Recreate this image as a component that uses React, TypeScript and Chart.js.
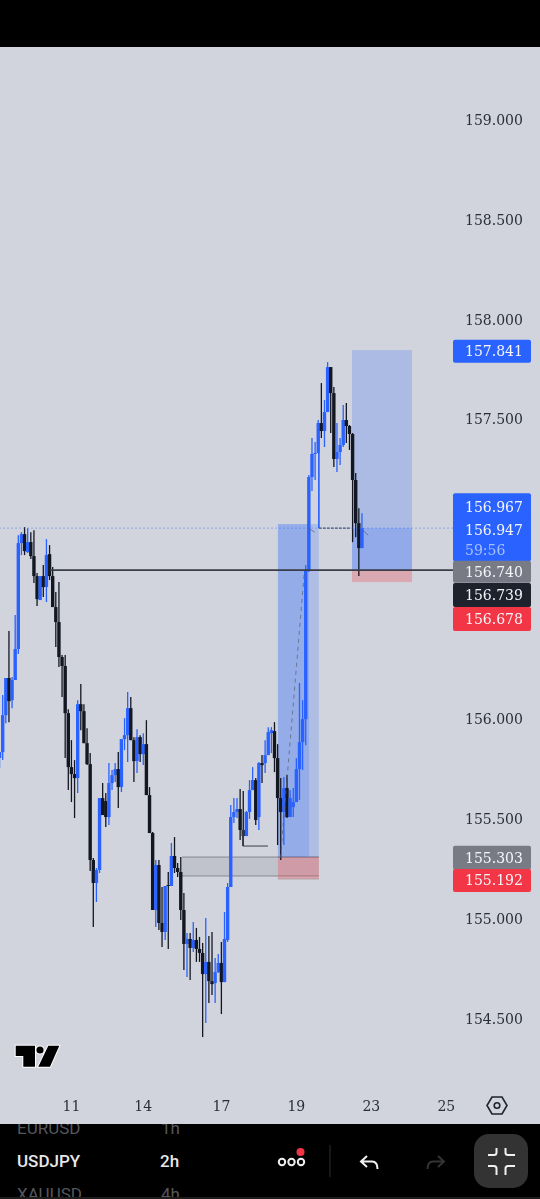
import React, { useEffect, useRef } from "react";
import { Chart, registerables } from "chart.js";

Chart.register(...registerables);

// 2h candles USDJPY
const opens = [155.802,155.832,156.017,156.203,156.092,156.193,156.348,156.878,156.923,156.833,156.883,156.813,156.713,156.593,156.713,156.658,156.823,156.713,156.558,156.483,156.308,156.263,156.027,155.757,155.722,155.702,156.072,156.037,155.877,155.772,155.292,155.177,155.242,155.602,155.587,155.507,155.677,155.717,155.747,155.657,155.897,155.917,156.052,155.892,155.787,155.907,155.822,155.872,155.617,155.427,155.042,155.267,154.977,154.932,155.167,155.162,155.312,155.252,155.232,155.042,154.872,154.897,154.852,154.892,154.847,154.827,154.721,154.782,154.686,154.676,154.731,154.777,154.681,154.892,155.157,155.507,155.532,155.547,155.442,155.412,155.532,155.642,155.692,155.507,155.777,155.777,155.817,155.927,155.937,155.802,155.602,155.532,155.652,155.507,155.557,155.582,155.747,155.882,155.997,156.743,157.209,157.324,157.329,157.479,157.439,157.534,157.759,157.629,157.299,157.334,157.369,157.494,157.464,157.424,157.194,156.978,156.853];
const highs = [155.832,156.118,156.203,156.438,156.208,156.518,156.918,156.933,156.958,156.953,156.933,156.943,156.728,156.713,156.768,156.898,156.868,156.758,156.633,156.683,156.318,156.318,156.047,155.892,155.792,156.092,156.173,156.072,155.952,155.827,155.302,155.252,155.602,155.677,155.627,155.777,155.742,155.777,155.832,155.897,156.002,156.133,156.108,155.907,155.947,155.917,155.927,155.992,155.657,155.432,155.292,155.292,155.157,155.162,155.232,155.377,155.407,155.277,155.307,155.127,154.927,154.927,154.982,154.952,154.907,154.877,155.002,154.912,154.932,154.802,154.822,154.882,155.032,155.177,155.567,155.602,155.602,155.647,155.637,155.537,155.692,155.757,155.702,155.782,155.817,155.892,155.957,155.957,155.982,155.872,155.702,155.707,155.717,155.642,155.652,155.802,156.178,156.092,156.768,157.219,157.404,157.384,157.494,157.679,157.594,157.784,157.759,157.659,157.479,157.404,157.569,157.579,157.469,157.429,157.229,157.053,157.028];
const lows = [155.752,155.792,155.977,155.982,156.052,156.193,156.323,156.818,156.818,156.828,156.798,156.678,156.563,156.593,156.608,156.583,156.693,156.558,156.358,156.258,156.108,155.802,155.642,155.582,155.502,155.627,155.942,155.877,155.767,155.237,154.957,155.082,155.227,155.517,155.457,155.467,155.642,155.682,155.552,155.632,155.842,155.782,155.892,155.682,155.727,155.782,155.767,155.617,155.427,155.042,154.957,154.942,154.857,154.892,154.847,155.162,155.227,155.207,154.992,154.741,154.706,154.691,154.832,154.782,154.782,154.406,154.476,154.576,154.616,154.576,154.726,154.521,154.681,154.882,155.157,155.477,155.502,155.392,155.362,155.412,155.497,155.642,155.467,155.442,155.677,155.727,155.817,155.827,155.732,155.367,155.292,155.367,155.502,155.507,155.507,155.582,155.592,155.742,155.867,156.733,157.139,157.194,157.329,157.404,157.359,157.534,157.429,157.259,157.234,157.269,157.359,157.379,157.344,156.883,156.908,156.713,156.853];
const closes = [155.832,156.017,156.203,156.087,156.193,156.348,156.878,156.923,156.838,156.883,156.813,156.713,156.598,156.713,156.658,156.818,156.713,156.558,156.483,156.308,156.263,156.027,155.757,155.722,155.702,156.072,156.037,155.877,155.772,155.292,155.177,155.242,155.602,155.517,155.507,155.677,155.717,155.747,155.657,155.897,155.917,156.052,155.892,155.787,155.907,155.822,155.872,155.617,155.427,155.042,155.267,154.977,154.932,155.162,155.162,155.312,155.252,155.232,155.042,154.872,154.897,154.852,154.892,154.847,154.827,154.721,154.782,154.686,154.671,154.731,154.777,154.681,154.897,155.157,155.507,155.532,155.547,155.442,155.412,155.532,155.642,155.692,155.492,155.777,155.767,155.817,155.932,155.942,155.802,155.602,155.532,155.652,155.507,155.602,155.582,155.747,155.882,155.997,156.743,157.209,157.324,157.329,157.479,157.439,157.534,157.759,157.629,157.299,157.334,157.369,157.494,157.464,157.424,157.194,156.978,156.853,156.953];

const dateTickIndex = [23, 46, 71, 95, 119, 143];
const dateTickLabels = ["11", "14", "17", "19", "23", "25"];
const priceTicks = [154.5, 155, 155.5, 156, 156.5, 157, 157.5, 158, 158.5, 159];

// Zones drawn behind candles: from-index, to-index, top price, bottom price
const zoneFrom = [58.4, 89.1, 89.1, 89.1, 112.8, 112.8, 112.8];
const zoneTo = [102.2, 102.2, 99.05, 102.2, 132, 132, 132];
const zoneTop = [155.307, 156.973, 156.973, 155.307, 157.844, 156.953, 156.743];
const zoneBottom = [155.212, 155.307, 155.307, 155.197, 156.743, 156.743, 156.683];
const zoneFill = [
  "rgba(120,123,134,0.18)",
  "rgba(41,98,255,0.2)",
  "rgba(41,98,255,0.2)",
  "rgba(242,54,69,0.28)",
  "rgba(41,98,255,0.22)",
  "rgba(41,98,255,0.2)",
  "rgba(242,54,69,0.28)",
];
const zoneEdge = ["rgba(90,93,104,0.6)", null, null, "rgba(120,90,100,0.35)", null, null, null];

// Drawn lines
const entryLineX = [16.1, 145.2];
const entryLineY = [156.743, 156.743];
const lastLineX = [0, 145.2];
const lastLineY = [156.953, 156.953];
const bracketX = [77.9, 77.9, 85.9];
const bracketY = [155.442, 155.362, 155.362];
const pathX = [89.9, 97.6];
const pathY = [155.302, 156.743];
const shelfX = [102.2, 112.2];
const shelfY = [156.953, 156.953];
const riserX = [102.2, 102.2];
const riserY = [157.329, 156.953];
const tickAX = [98.8, 100.9];
const tickAY = [156.953, 156.933];
const tickBX = [116.2, 118];
const tickBY = [156.943, 156.918];

// Price-axis tags
const tagValues = [157.841, 156.967, 156.947, 156.74, 156.739, 156.678, 155.303, 155.192];
const tagTexts = ["157.841", "156.967", "156.947", "156.740", "156.739", "156.678", "155.303", "155.192"];
const tagFills = ["#2962ff", "#2962ff", "#2962ff", "#787b86", "#1e222d", "#f23645", "#787b86", "#f23645"];
const tagShift = [0, -18, 1, 1, 24, 36, 0, 0];
const tagUp = [11, 14, 11, 11, 12, 12, 12, 11];
const tagDown = [12, 14, 31, 11, 12, 12, 12, 12];
const countdown = "59:56";

const BLUE = "#2962ff";
const BLACK = "#131722";
const SERIF = "'DejaVu Serif', serif";

export default function App() {
  const ref = useRef<HTMLCanvasElement | null>(null);

  useEffect(() => {
    document.body.style.margin = "0";
    const colors = closes.map((c, i) => (c >= opens[i] ? BLUE : BLACK));
    const zonesPlugin = {
      id: "zones",
      beforeDatasetsDraw(chart: any) {
        const { ctx, scales } = chart;
        zoneFrom.forEach((from, i) => {
          const x0 = scales.x.getPixelForValue(from);
          const x1 = scales.x.getPixelForValue(zoneTo[i]);
          const y0 = scales.y.getPixelForValue(zoneTop[i]);
          const y1 = scales.y.getPixelForValue(zoneBottom[i]);
          ctx.fillStyle = zoneFill[i];
          ctx.fillRect(x0, y0, x1 - x0, y1 - y0);
          const edge = zoneEdge[i];
          if (edge) {
            ctx.strokeStyle = edge;
            ctx.lineWidth = 1;
            ctx.beginPath();
            ctx.moveTo(x0, y0);
            ctx.lineTo(x1, y0);
            ctx.moveTo(x0, y1);
            ctx.lineTo(x1, y1);
            ctx.stroke();
          }
        });
      },
    };
    const tagsPlugin = {
      id: "tags",
      afterDraw(chart: any) {
        const { ctx, scales } = chart;
        ctx.save();
        ctx.font = `14px ${SERIF}`;
        ctx.textBaseline = "middle";
        ctx.textAlign = "left";
        tagValues.forEach((v, i) => {
          const cy = scales.y.getPixelForValue(v) + tagShift[i];
          ctx.fillStyle = tagFills[i];
          ctx.beginPath();
          ctx.roundRect(453, cy - tagUp[i], 78, tagUp[i] + tagDown[i], 2);
          ctx.fill();
        });
        tagValues.forEach((v, i) => {
          const cy = scales.y.getPixelForValue(v) + tagShift[i];
          ctx.fillStyle = "#f5f6fa";
          ctx.fillText(tagTexts[i], 465, cy + 1.5);
          if (i === 2) {
            ctx.fillStyle = "#a9c0ff";
            ctx.fillText(countdown, 465, cy + 21.5);
          }
        });
        ctx.restore();
      },
    };
    const lineSet = (xs: number[], ys: number[], color: string, width: number, dash: number[] = []) => ({
      type: "line" as const,
      data: xs.map((x, i) => ({ x, y: ys[i] })),
      borderColor: color,
      borderWidth: width,
      borderDash: dash,
      pointRadius: 0,
      fill: false,
      tension: 0,
      order: 0,
    });
    const chart = new Chart(ref.current as HTMLCanvasElement, {
      type: "bar",
      data: {
        datasets: [
          {
            data: highs.map((h, i) => ({ x: i, y: [lows[i], h] })),
            backgroundColor: colors,
            barThickness: 1.3,
            grouped: false,
            inflateAmount: 0,
            order: 2,
          },
          {
            data: opens.map((o, i) => ({ x: i, y: [o, closes[i]] })),
            backgroundColor: colors,
            barThickness: 3.4,
            grouped: false,
            inflateAmount: 0,
            order: 1,
          },
          lineSet(lastLineX, lastLineY, "rgba(41,98,255,0.75)", 1, [1, 3]),
          lineSet(entryLineX, entryLineY, "#3a3d47", 1.6),
          lineSet(bracketX, bracketY, "#3a3d47", 1),
          lineSet(pathX, pathY, "rgba(90,93,110,0.7)", 1, [4, 4]),
          lineSet(shelfX, shelfY, "#3a3d47", 1, [3, 1]),
          lineSet(riserX, riserY, BLUE, 1),
          lineSet(tickAX, tickAY, "rgba(90,93,110,0.7)", 1),
          lineSet(tickBX, tickBY, "rgba(90,93,110,0.7)", 1),
        ] as any,
      },
      options: {
        animation: false,
        responsive: false,
        devicePixelRatio: 1,
        layout: { padding: { top: 47, bottom: 74, left: 0, right: 0 } },
        plugins: { legend: { display: false }, tooltip: { enabled: false } },
        scales: {
          x: {
            type: "linear",
            offset: false,
            min: 0.136,
            max: 145.14,
            grid: { display: false },
            border: { display: false },
            afterBuildTicks: (s: any) => {
              s.ticks = dateTickIndex.map((value) => ({ value }));
            },
            afterFit: (s: any) => {
              s.height = 35;
            },
            ticks: {
              autoSkip: false,
              maxRotation: 0,
              padding: 1,
              color: "#2a2e39",
              font: { family: SERIF, size: 14 },
              callback: (v: any) => dateTickLabels[dateTickIndex.indexOf(Number(v))] ?? "",
            },
          },
          y: {
            type: "linear",
            position: "right",
            min: 154.141,
            max: 159.361,
            grid: { display: false, drawTicks: false },
            border: { display: false },
            afterBuildTicks: (s: any) => {
              s.ticks = priceTicks.map((value) => ({ value }));
            },
            afterFit: (s: any) => {
              s.width = 87;
            },
            ticks: {
              padding: 12,
              labelOffset: 2,
              color: "#2a2e39",
              font: { family: SERIF, size: 14 },
              callback: (v: any) => Number(v).toFixed(3),
            },
          },
        },
      } as any,
      plugins: [zonesPlugin, tagsPlugin],
    });
    return () => chart.destroy();
  }, []);

  const row = (top: number, left: number, text: string, color: string, weight = 500): React.ReactElement => (
    <div
      style={{
        position: "absolute",
        top,
        left,
        color,
        fontFamily: "Roboto, sans-serif",
        fontSize: 17,
        fontWeight: weight,
        lineHeight: "20px",
        whiteSpace: "nowrap",
      }}
    >
      {text}
    </div>
  );

  return (
    <div style={{ position: "relative", width: 540, height: 1199, background: "#d1d4dc", overflow: "hidden" }}>
      <canvas ref={ref} width={540} height={1199} style={{ position: "absolute", left: 0, top: 0, display: "block" }} />
      <div style={{ position: "absolute", left: 0, top: 0, width: 540, height: 47, background: "#000" }} />
      <div style={{ position: "absolute", left: 0, top: 1124, width: 540, height: 73, background: "#000", overflow: "hidden" }}>
        {row(-6, 17, "EURUSD", "#55575c", 400)}
        {row(-6, 161, "1h", "#55575c", 400)}
        {row(27, 17, "USDJPY", "#e8e8e8")}
        {row(27, 160, "2h", "#e8e8e8")}
        {row(60, 17, "XAUUSD", "#55575c", 400)}
        {row(60, 161, "4h", "#55575c", 400)}
      </div>
      <div style={{ position: "absolute", left: 0, top: 1197, width: 540, height: 2, background: "#1c1c1c" }} />
      <svg width={540} height={1199} style={{ position: "absolute", left: 0, top: 0, pointerEvents: "none" }}>
        <g fill="#000" stroke="#fff" strokeWidth={2} strokeLinejoin="miter" paintOrder="stroke">
          <path d="M15.7 1045.7H35V1066.7H23.3V1056H15.7Z" />
          <circle cx={40} cy={1050} r={3.6} />
          <path d="M48.3 1045.7H59.3L50 1066.7H38.3Z" />
        </g>
        <g fill="none" stroke="#1e222d" strokeWidth={1.6}>
          <path d="M487 1105.5L492 1097H502L507 1105.5L502 1114H492Z" />
          <circle cx={497} cy={1105.5} r={2.8} />
        </g>
        <g fill="none" stroke="#f0f0f0" strokeWidth={2}>
          <circle cx={282} cy={1162} r={3.2} />
          <circle cx={291.5} cy={1162} r={3.2} />
          <circle cx={301} cy={1162} r={3.2} />
        </g>
        <circle cx={300.5} cy={1152} r={4} fill="#f23645" />
        <line x1={330} y1={1145} x2={330} y2={1177} stroke="#2e2e2e" strokeWidth={1} />
        <path d="M367 1156L361 1161.5L367 1167M361 1161.5H372Q377.5 1161.5 377.5 1169" fill="none" stroke="#f0f0f0" strokeWidth={2} />
        <path d="M438 1156L444 1161.5L438 1167M444 1161.5H433Q427.5 1161.5 427.5 1169" fill="none" stroke="#333" strokeWidth={2} />
        <rect x={474} y={1134} width={54} height={54} rx={15} fill="#333" />
        <g fill="none" stroke="#f0f0f0" strokeWidth={2}>
          <path d="M488 1155H494Q496.5 1155 496.5 1152.5V1148" />
          <path d="M505.5 1148V1152.5Q505.5 1155 508 1155H515" />
          <path d="M488 1166H494Q496.5 1166 496.5 1168.5V1175" />
          <path d="M505.5 1175V1168.5Q505.5 1166 508 1166H515" />
        </g>
      </svg>
    </div>
  );
}
